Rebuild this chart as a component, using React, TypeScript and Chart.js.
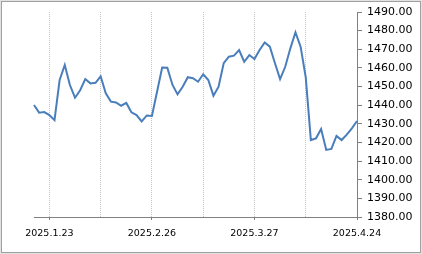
import React, { useEffect, useRef } from "react";
import { Chart, registerables } from "chart.js";

Chart.register(...registerables);

const dates = [
  "2025.1.20", "2025.1.21", "2025.1.22", "2025.1.23", "2025.1.24", "2025.1.31",
  "2025.2.3", "2025.2.4", "2025.2.5", "2025.2.6", "2025.2.7",
  "2025.2.10", "2025.2.11", "2025.2.12", "2025.2.13", "2025.2.14",
  "2025.2.17", "2025.2.18", "2025.2.19", "2025.2.20", "2025.2.21",
  "2025.2.24", "2025.2.25", "2025.2.26", "2025.2.27", "2025.2.28",
  "2025.3.4", "2025.3.5", "2025.3.6", "2025.3.7",
  "2025.3.10", "2025.3.11", "2025.3.12", "2025.3.13", "2025.3.14",
  "2025.3.17", "2025.3.18", "2025.3.19", "2025.3.20", "2025.3.21",
  "2025.3.24", "2025.3.25", "2025.3.26", "2025.3.27", "2025.3.28",
  "2025.3.31", "2025.4.1", "2025.4.2", "2025.4.3", "2025.4.4",
  "2025.4.7", "2025.4.8", "2025.4.9", "2025.4.10", "2025.4.11",
  "2025.4.14", "2025.4.15", "2025.4.16", "2025.4.17", "2025.4.18",
  "2025.4.21", "2025.4.22", "2025.4.23", "2025.4.24",
];

const rates = [
  1440.1, 1436.0, 1436.3, 1434.7, 1432.0, 1453.5,
  1461.6, 1450.8, 1444.0, 1448.0, 1454.0,
  1451.7, 1452.0, 1455.5, 1446.4, 1441.9,
  1441.5, 1439.7, 1441.2, 1436.2, 1434.7,
  1431.3, 1434.5, 1434.2, 1447.2, 1460.2,
  1460.1, 1451.0, 1445.8, 1449.9,
  1455.0, 1454.5, 1452.6, 1456.6, 1453.5,
  1445.1, 1449.9, 1462.5, 1466.0, 1466.6,
  1469.6, 1463.3, 1466.9, 1464.8, 1469.6,
  1473.7, 1471.4, 1462.5, 1454.0, 1460.6,
  1470.5, 1479.1, 1471.4, 1455.0, 1421.3,
  1422.2, 1427.2, 1416.0, 1416.5, 1423.5,
  1421.3, 1424.2, 1427.6, 1431.5,
];

const labeledDates = ["2025.1.23", "2025.2.26", "2025.3.27", "2025.4.24"];
const gridDates = ["2025.1.23", "2025.2.12", "2025.2.26", "2025.3.13", "2025.3.27", "2025.4.10"];

const yMin = 1380;
const yMax = 1490;
const yStep = 10;

const frame = {
  id: "frame",
  afterDraw(chart: any) {
    const ctx = chart.ctx;
    ctx.save();
    ctx.lineWidth = 1;
    ctx.strokeStyle = "#e2e2e2";
    ctx.strokeRect(0.5, 0.5, 421, 253);
    ctx.strokeStyle = "#a0a0a0";
    ctx.strokeRect(1.5, 1.5, 419, 251);
    ctx.restore();
  },
};

export default function App() {
  const ref = useRef<HTMLCanvasElement>(null);
  useEffect(() => {
    const chart = new Chart(ref.current!, {
      type: "line",
      data: {
        labels: dates,
        datasets: [
          {
            data: rates,
            borderColor: "#4a7ebb",
            borderWidth: 2,
            pointRadius: 0,
            tension: 0,
            fill: false,
          },
        ],
      },
      options: {
        animation: false,
        responsive: false,
        events: [],
        layout: { padding: { left: 34, top: 12, right: 0, bottom: 0 } },
        plugins: { legend: { display: false }, tooltip: { enabled: false } },
        scales: {
          x: {
            type: "category",
            offset: false,
            afterFit(scale: any) {
              scale.height = 37;
            },
            grid: {
              display: true,
              drawOnChartArea: true,
              drawTicks: true,
              tickLength: 3,
              lineWidth: 1,
              color: (c: any) =>
                gridDates.includes(dates[c.index]) ? "#c4c4c4" : "rgba(0,0,0,0)",
              tickColor: (c: any) =>
                labeledDates.includes(dates[c.index]) ? "#808080" : "rgba(0,0,0,0)",
            },
            border: { display: true, color: "#808080", width: 1, dash: [1, 1] },
            ticks: {
              autoSkip: false,
              maxRotation: 0,
              minRotation: 0,
              padding: 8,
              color: "#000",
              font: { family: "DejaVu Sans", size: 9.5 },
              callback: (v: any, i: number) =>
                labeledDates.includes(dates[i]) ? dates[i] : "",
            },
          },
          y: {
            position: "right",
            min: yMin,
            max: yMax,
            afterFit(scale: any) {
              scale.width = 65;
            },
            grid: {
              display: true,
              drawOnChartArea: false,
              drawTicks: true,
              tickLength: 5,
              tickColor: "#808080",
            },
            border: { display: true, color: "#808080", width: 1 },
            ticks: {
              stepSize: yStep,
              padding: 5,
              color: "#000",
              font: { family: "DejaVu Sans", size: 11 },
              callback: (v: any) => Number(v).toFixed(2),
            },
          },
        },
      },
      plugins: [frame],
    });
    return () => chart.destroy();
  }, []);
  return (
    <div style={{ position: "absolute", left: 0, top: 0, width: 422, height: 254, background: "#fff" }}>
      <canvas ref={ref} width={422} height={254} style={{ display: "block" }} />
    </div>
  );
}
